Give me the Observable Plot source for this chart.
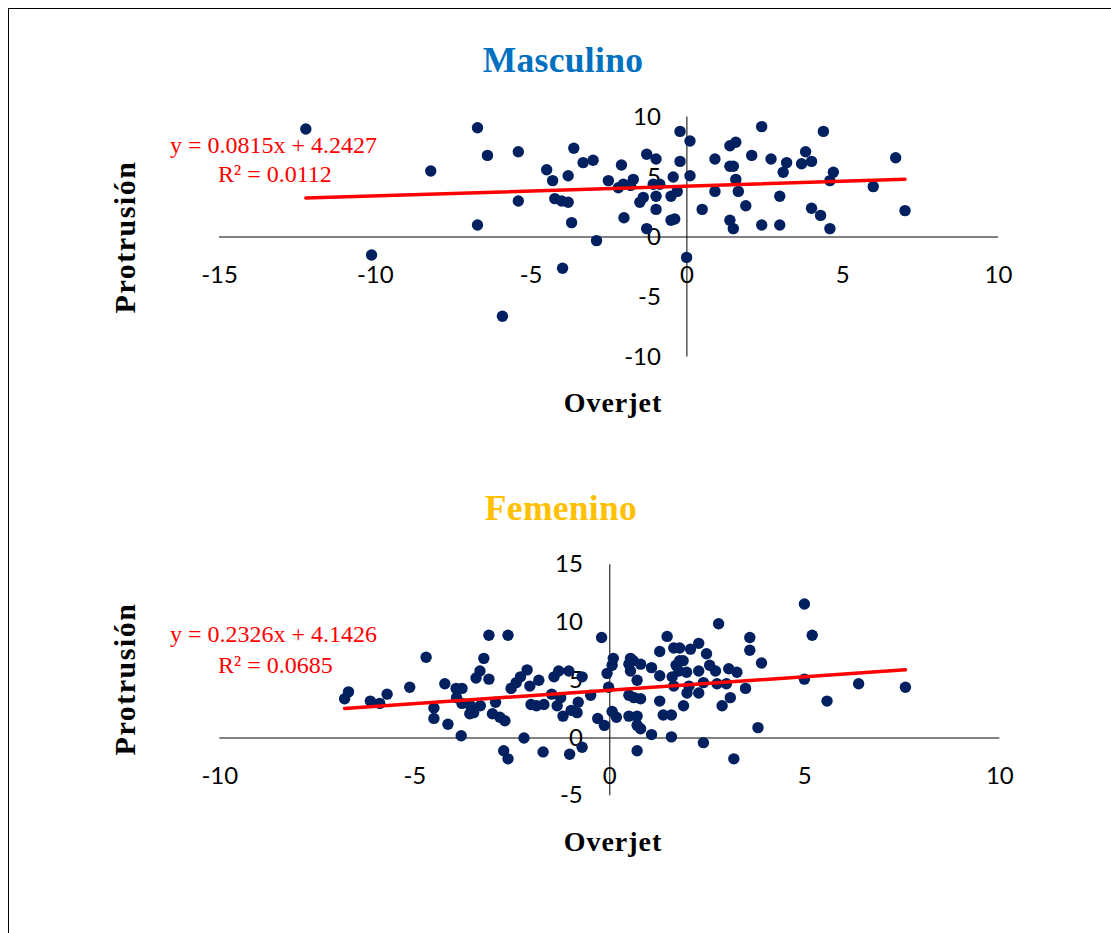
<!DOCTYPE html>
<html>
<head>
<meta charset="utf-8">
<script src="https://cdn.jsdelivr.net/npm/d3@7"></script>
<script src="https://cdn.jsdelivr.net/npm/@observablehq/plot@0.6"></script>
<style>
  html, body { margin: 0; padding: 0; background: #fff; }
  #wrap { position: relative; width: 1111px; height: 933px; overflow: hidden; background: #fff; }
  #frame { position: absolute; left: 8px; top: 8px; width: 1200px; height: 1000px; border: 1.5px solid #000; box-sizing: border-box; }
  .plot { position: absolute; left: 0; }
  #overlay { position: absolute; left: 0; top: 0; pointer-events: none; }
</style>
</head>
<body>
<div id="wrap">
  <div id="frame"></div>
  <div id="topPlot" class="plot" style="top:100px"></div>
  <div id="botPlot" class="plot" style="top:550px"></div>
</div>
<script>
// ---------------- DATA ----------------
const panelTitles = ["Masculino", "Femenino"];
const xAxisTitle = "Overjet";
const yAxisTitle = "Protrusión";

// Masculino
const mascOverjet = [-12.23, -8.22, -10.12, -6.72, -6.40, -5.41, -6.72, -5.41, -4.50, -4.31, -4.24, -4.02, -3.81, -3.81, -3.63, -3.70, -3.99, -5.92, -3.33, -3.01, -2.90, -2.52, -2.20, -2.10, -2.04, -1.81, -1.72, -2.02, -1.51, -1.40, -1.29, -0.99, -1.29, -0.99, -0.99, -1.08, -0.87, -0.51, -0.31, -0.44, -0.51, -0.39, -0.22, -0.22, 0.10, 0.10, -0.01, 0.49, 0.90, 0.90, 1.38, 1.57, 1.38, 1.49, 1.38, 1.49, 1.57, 1.65, 1.89, 2.40, 2.08, 2.70, 2.40, 2.98, 2.98, 3.20, 3.09, 3.68, 3.81, 4.00, 4.38, 4.00, 4.29, 4.59, 4.70, 4.59, 5.98, 6.70, 7.00];
const mascProtrusion = [9.0, 5.5, -1.5, 9.1, 6.8, 7.1, 1.0, 3.0, 5.6, 4.7, 3.2, 3.0, 2.9, 5.1, 7.4, 1.2, -2.6, -6.6, 6.2, 6.4, -0.3, 4.7, 4.1, 6.0, 4.4, 4.3, 4.8, 1.6, 2.9, 3.3, 6.9, 6.5, 0.7, 3.4, 2.3, 4.4, 4.4, 3.4, 3.8, 5.0, 1.4, 1.5, 8.8, 6.3, 8.0, 5.1, -1.7, 2.3, 6.5, 3.8, 7.6, 7.9, 5.9, 5.9, 1.4, 0.7, 4.8, 3.8, 2.6, 9.2, 6.8, 6.5, 1.0, 3.4, 1.0, 6.2, 5.4, 6.1, 7.1, 6.3, 8.8, 2.4, 1.8, 0.7, 5.4, 4.7, 4.2, 6.6, 2.2];

// Femenino
const femOverjet = [-6.80, -6.70, -6.14, -5.90, -5.71, -5.13, -4.71, -4.51, -4.51, -4.23, -4.15, -3.94, -3.79, -3.81, -3.93, -3.79, -3.57, -3.59, -3.49, -3.32, -3.43, -3.33, -3.23, -3.10, -3.10, -2.61, -2.93, -3.01, -2.82, -2.69, -2.72, -2.61, -2.53, -2.40, -2.29, -2.12, -2.05, -1.82, -2.02, -1.88, -1.69, -2.20, -1.71, -1.49, -1.43, -1.31, -1.35, -1.20, -1.26, -1.05, -0.99, -0.84, -0.81, -0.71, -1.03, -0.71, -0.49, -0.31, -0.14, -0.21, -0.07, -0.03, 0.06, 0.09, 0.06, 0.17, 0.49, 0.53, 0.60, 0.79, 0.53, 0.70, 0.49, 0.62, 0.79, 0.49, 0.70, 0.70, 0.79, 0.70, 1.07, 1.07, 1.28, 1.28, 1.28, 1.37, 1.58, 1.58, 1.47, 1.64, 1.79, 1.60, 1.70, 1.79, 1.88, 1.64, 1.77, 1.97, 2.03, 1.98, 1.89, 2.28, 2.07, 2.28, 2.48, 2.40, 2.28, 2.40, 2.56, 2.71, 2.79, 2.75, 2.99, 2.88, 3.09, 3.05, 3.26, 3.18, 3.59, 3.59, 3.89, 3.48, 3.80, 4.99, 5.19, 4.99, 5.57, 6.38, 7.58];
const femProtrusion = [3.4, 4.0, 3.2, 3.0, 3.8, 4.4, 7.0, 2.6, 1.7, 4.7, 1.2, 4.3, 4.3, 0.2, 3.5, 3.0, 2.8, 2.1, 2.2, 2.8, 5.2, 5.8, 6.9, 5.1, 8.9, 8.9, 3.1, 2.1, 1.8, 1.5, -1.1, -1.8, 4.3, 4.8, 5.3, 5.9, 4.5, 5.0, 2.9, 2.8, 2.9, 0.0, -1.2, 3.8, 5.3, 5.8, 2.8, 1.9, 3.5, 5.8, 2.4, 2.2, 3.1, 5.3, -1.4, -0.8, 3.7, 1.7, 1.1, 8.7, 5.6, 4.4, 6.3, 6.9, 2.3, 1.8, 6.4, 6.9, 6.7, 6.4, 5.8, 5.0, 3.7, 3.5, 3.4, 1.9, 1.9, 1.1, 0.8, -1.1, 0.3, 6.1, 5.4, 7.5, 3.2, 2.0, 2.0, 0.1, 8.8, 7.8, 7.8, 5.3, 6.3, 6.7, 6.7, 4.5, 5.8, 5.7, 4.5, 3.9, 2.8, 5.8, 7.7, 8.2, 7.3, 4.8, 3.9, -0.4, 6.3, 5.8, 9.9, 4.7, 4.7, 2.8, 3.5, 6.0, 5.7, -1.8, 8.7, 7.6, 6.5, 4.3, 0.9, 11.6, 8.9, 5.1, 3.2, 4.7, 4.4];

// Trendlines (from the chart labels)
const slopes = [0.0815, 0.2326];
const intercepts = [4.2427, 4.1426];
const r2 = ["0.0112", "0.0685"];

// Tick labels
const mascXTicks = [-15, -10, -5, 0, 5, 10];
const mascYTicks = [-10, -5, 0, 5, 10];
const femXTicks = [-10, -5, 0, 5, 10];
const femYTicks = [-5, 0, 5, 10, 15];

// ---------------- DRAW ----------------
const dotColor = "#002060";
const tickFont = "Lato, 'Open Sans', sans-serif";

function panel(xs, ys, slope, intercept, xTicks, yTicks, cfg) {
  const pts = xs.map((x, i) => ({x, y: ys[i]}));
  const x0 = d3.min(xs), x1 = d3.max(xs);
  const trend = [x0, x1].map(x => ({x, y: slope * x + intercept}));
  return Plot.plot({
    width: 1111,
    height: cfg.height,
    marginLeft: cfg.ml, marginRight: cfg.mr, marginTop: cfg.mt, marginBottom: cfg.mb,
    x: {domain: [xTicks[0], xTicks[xTicks.length - 1]], axis: null},
    y: {domain: [yTicks[0], yTicks[yTicks.length - 1]], axis: null},
    style: {background: "transparent", overflow: "visible", fontFamily: tickFont},
    marks: [
      Plot.ruleY([0], {x1: xTicks[0], x2: xTicks[xTicks.length - 1], stroke: "#595959", strokeWidth: 1.5}),
      Plot.ruleX([0], {y1: yTicks[0], y2: yTicks[yTicks.length - 1], stroke: "#000", strokeWidth: 1}),
      Plot.text(xTicks, {x: d => d, y: 0, dy: 38, text: d => String(d), fontSize: 24, fill: "#000", fontFamily: tickFont}),
      Plot.text(yTicks, {x: 0, y: d => d, dx: cfg.ydx, textAnchor: "end", text: d => String(d), fontSize: 24, fill: "#000", fontFamily: tickFont}),
      Plot.dot(pts, {x: "x", y: "y", r: 5.7, fill: dotColor}),
      Plot.line(trend, {x: "x", y: "y", stroke: "#FF0000", strokeWidth: 3.5})
    ]
  });
}

document.getElementById("topPlot").append(
  panel(mascOverjet, mascProtrusion, slopes[0], intercepts[0], mascXTicks, mascYTicks,
        {height: 330, ml: 219, mr: 113, mt: 16.5, mb: 73.5, ydx: -26})
);
document.getElementById("botPlot").append(
  panel(femOverjet, femProtrusion, slopes[1], intercepts[1], femXTicks, femYTicks,
        {height: 280, ml: 219.3, mr: 111.7, mt: 14.3, mb: 34.7, ydx: -27})
);

// Text overlay: titles, axis titles, trendline equations
const svg = d3.select("#wrap").append("svg")
  .attr("id", "overlay").attr("width", 1111).attr("height", 933);
const serif = "'Liberation Serif', 'Times New Roman', serif";

const titleSpecs = [
  {t: panelTitles[0], x: 563, y: 72, c: "#0070C0"},
  {t: panelTitles[1], x: 561, y: 520, c: "#FFC000"}
];
titleSpecs.forEach(s => svg.append("text").text(s.t)
  .attr("x", s.x).attr("y", s.y).attr("text-anchor", "middle")
  .attr("font-family", serif).attr("font-weight", "bold").attr("font-size", 35.5)
  .attr("letter-spacing", 0.3).attr("fill", s.c));

[{x: 613, y: 412}, {x: 613, y: 851}].forEach(p => svg.append("text").text(xAxisTitle)
  .attr("x", p.x).attr("y", p.y).attr("text-anchor", "middle")
  .attr("font-family", serif).attr("font-weight", "bold").attr("font-size", 28)
  .attr("letter-spacing", 1).attr("fill", "#000"));

[{x: 135, y: 237}, {x: 135, y: 679}].forEach(p => svg.append("text").text(yAxisTitle)
  .attr("transform", `translate(${p.x},${p.y}) rotate(-90)`).attr("text-anchor", "middle")
  .attr("font-family", serif).attr("font-weight", "bold").attr("font-size", 30)
  .attr("letter-spacing", 1.5).attr("fill", "#000"));

const eqPos = [{y1: 153, y2: 182}, {y1: 642, y2: 673}];
slopes.forEach((s, i) => {
  svg.append("text").text(`y = ${s.toFixed(4)}x + ${intercepts[i].toFixed(4)}`)
    .attr("x", 170).attr("y", eqPos[i].y1)
    .attr("font-family", serif).attr("font-size", 24).attr("fill", "#FF0000");
  svg.append("text").text(`R² = ${r2[i]}`)
    .attr("x", 218).attr("y", eqPos[i].y2)
    .attr("font-family", serif).attr("font-size", 24).attr("fill", "#FF0000");
});
</script>
</body>
</html>
